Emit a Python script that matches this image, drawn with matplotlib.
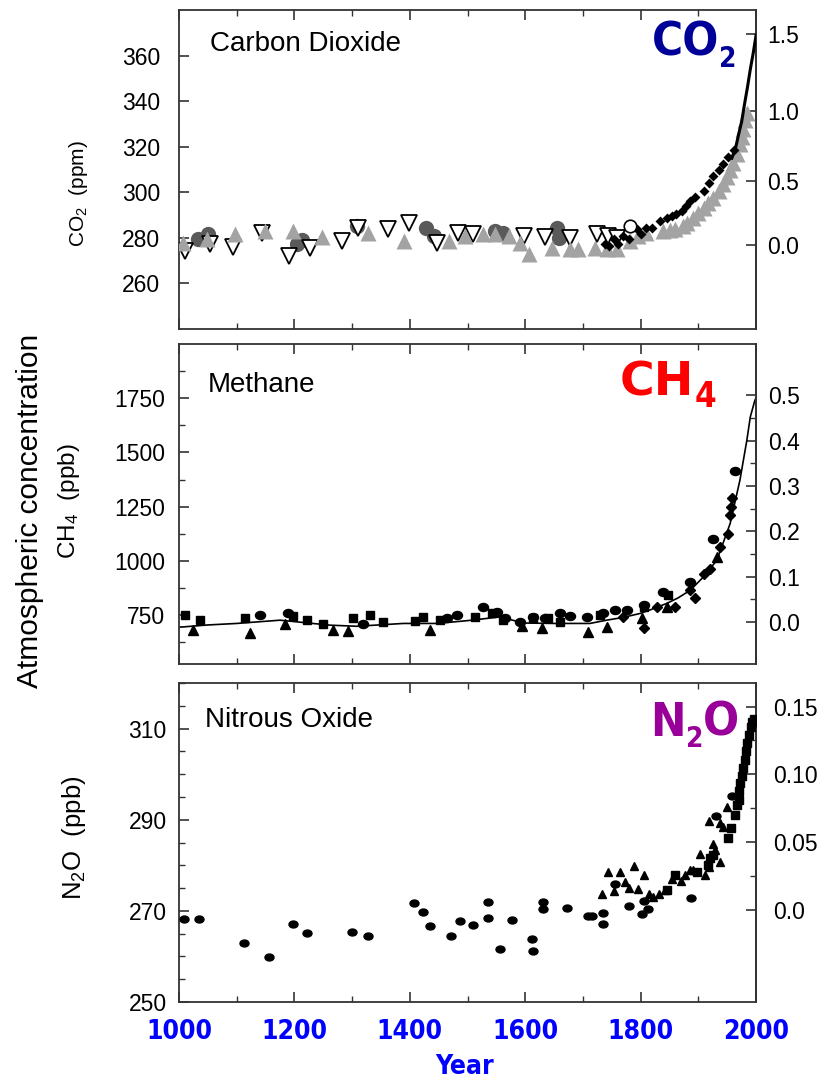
import numpy as np
import matplotlib
matplotlib.use('Agg')
import matplotlib.pyplot as plt
from matplotlib import font_manager as fm
from matplotlib.markers import MarkerStyle
from matplotlib.transforms import Affine2D
from matplotlib.ticker import MultipleLocator, FixedLocator

# ---------------- data ----------------
# CO2 (ppm)
co2_circ_year = [1033, 1051, 1204, 1213, 1309, 1428, 1441, 1548, 1562, 1655, 1658]
co2_circ_ppm = [279.3, 281.5, 277.1, 278.9, 285.2, 284.2, 280.8, 283.0, 282.3, 284.5, 280.0]

co2_open_year = [1010, 1054, 1094, 1143, 1191, 1227, 1282, 1311, 1363, 1398, 1447, 1484, 1510,
                 1597, 1634, 1678, 1724, 1744, 1759]
co2_open_ppm = [274.2, 277.1, 275.9, 282.3, 272.0, 275.6, 278.6, 284.5, 283.8, 286.7, 277.8, 282.3, 281.5,
                280.8, 280.4, 280.0, 281.8, 280.8, 280.0]

co2_gray_year = [1007, 1048, 1097, 1149, 1198, 1247, 1328, 1389, 1467, 1496, 1527, 1548, 1571, 1591,
                 1607, 1646, 1678, 1692, 1721, 1741, 1759, 1782, 1796, 1810, 1839, 1850, 1860, 1874,
                 1880, 1891, 1900, 1909, 1917, 1926, 1935, 1943, 1950, 1955, 1960, 1967, 1972, 1975,
                 1978, 1981, 1984]
co2_gray_ppm = [277.8, 279.3, 281.5, 283.0, 283.0, 280.4, 282.3, 278.6, 278.6, 280.8, 281.5, 281.5, 280.8, 277.8,
                272.7, 275.6, 274.9, 274.9, 275.6, 274.9, 274.9, 278.6, 280.8, 282.3, 283.0, 283.5, 283.8, 285.2,
                286.5, 288.9, 291.0, 293.3, 295.5, 297.7, 300.5, 303.7, 306.5, 309.6, 313.0, 317.0, 321.0, 324.3,
                328.0, 331.7, 334.6]

co2_dia_year = [1738, 1745, 1753, 1760, 1770, 1780, 1793, 1800, 1810, 1820, 1834, 1845, 1854, 1862,
                1871, 1878, 1886, 1895, 1909, 1918, 1926, 1935, 1943, 1952, 1961]
co2_dia_ppm = [277.1, 276.5, 279.3, 277.5, 280.8, 279.5, 283.8, 281.5, 284.5, 284.5, 287.4, 288.5, 289.6, 290.5,
               291.9, 294.0, 296.3, 298.0, 300.7, 304.0, 307.3, 310.0, 312.5, 315.5, 318.4]

co2_ocirc_year = [1782]
co2_ocirc_ppm = [285.2]

co2_line_year = [1958, 1965, 1970, 1975, 1980, 1985, 1990, 1995, 2000]
co2_line_ppm = [315.0, 320.0, 325.7, 331.0, 338.7, 346.0, 354.0, 361.0, 369.0]

# CH4 (ppb)
ch4_line_year = [1000, 1007, 1050, 1100, 1175, 1262, 1308, 1389, 1447, 1500, 1556, 1597, 1650, 1712,
                 1741, 1770, 1799, 1820, 1845, 1865, 1886, 1909, 1932, 1955, 1972, 1984, 1990, 1998, 2000]
ch4_line_ppb = [695, 696, 705, 712, 727, 704, 699, 712, 712, 725, 742, 714, 712, 712,
                727, 740, 758, 778, 804, 830, 865, 927, 1003, 1172, 1372, 1556, 1664, 1741, 1750]

ch4_sq_year = [1010, 1036, 1114, 1198, 1221, 1250, 1302, 1331, 1354, 1409, 1423, 1452, 1513, 1542,
               1562, 1614, 1640, 1660, 1730, 1805, 1848]
ch4_sq_ppb = [750, 727, 735, 745, 729, 711, 739, 750, 719, 723, 742, 727, 742, 758,
              727, 736, 739, 719, 750, 789, 842]

ch4_circ_year = [1140, 1189, 1319, 1464, 1481, 1527, 1551, 1565, 1591, 1614, 1634, 1660, 1678, 1707,
                 1735, 1756, 1776, 1805, 1839, 1886, 1926, 1964]
ch4_circ_ppb = [750, 758, 711, 735, 750, 786, 765, 735, 719, 742, 739, 761, 747, 742,
                758, 773, 773, 796, 857, 904, 1099, 1415]

ch4_tri_year = [1025, 1123, 1184, 1267, 1293, 1435, 1594, 1629, 1709, 1741, 1802, 1845, 1932]
ch4_tri_ppb = [681, 669, 711, 683, 676, 683, 699, 689, 671, 694, 739, 789, 1019]

ch4_dia_year = [1770, 1805, 1828, 1860, 1886, 1895, 1909, 1921, 1938, 1951, 1954, 1956, 1958]
ch4_dia_ppb = [742, 689, 789, 789, 865, 827, 942, 965, 1065, 1126, 1211, 1249, 1288]

# N2O (ppb)
n2o_circ_year = [1009, 1035, 1113, 1156, 1197, 1222, 1300, 1328, 1408, 1423, 1435, 1471, 1487, 1509,
                 1535, 1535, 1556, 1577, 1611, 1613, 1631, 1631, 1673, 1709, 1715, 1735, 1735, 1756,
                 1780, 1803, 1806, 1812, 1888, 1931, 1958]
n2o_circ_ppb = [268.3, 268.3, 262.9, 259.8, 267.1, 265.1, 265.4, 264.5, 271.8, 269.7, 266.6, 264.5, 267.8, 266.8,
                271.9, 268.4, 261.7, 268.0, 263.8, 261.2, 272.0, 270.5, 270.6, 268.9, 268.9, 269.6, 267.2, 276.0,
                271.0, 269.3, 272.1, 270.4, 272.9, 290.9, 295.3]

n2o_tri_year = [1733, 1744, 1754, 1764, 1773, 1779, 1789, 1796, 1805, 1814, 1822, 1831, 1842, 1854,
                1870, 1877, 1885, 1891, 1903, 1912, 1919, 1925, 1929, 1937, 1919, 1937, 1943, 1950]
n2o_tri_ppb = [273.7, 278.6, 274.3, 278.6, 276.4, 275.1, 279.9, 274.7, 277.8, 273.8, 273.1, 273.6, 274.5, 276.9,
               276.5, 277.8, 278.9, 278.9, 282.4, 277.8, 279.7, 284.6, 283.3, 280.8, 289.8, 289.2, 288.5, 292.9]

n2o_sq_year = [1845, 1860, 1898, 1916, 1920, 1925, 1951, 1956, 1964, 1967, 1970, 1971, 1972, 1975,
               1978, 1981, 1983, 1985, 1988, 1991, 1993, 1996]
n2o_sq_ppb = [274.5, 277.8, 278.6, 280.0, 281.5, 282.2, 286.0, 288.1, 291.0, 293.2, 294.3, 296.2, 298.0, 299.5,
              301.3, 303.1, 305.0, 306.8, 308.6, 310.4, 311.5, 312.1]

year_ticks = [1000, 1200, 1400, 1600, 1800, 2000]
year_labels = ['1000', '1200', '1400', '1600', '1800', '2000']

# ---------------- style ----------------
plt.rcParams['font.family'] = ['Liberation Sans', 'DejaVu Sans']
plt.rcParams['mathtext.fontset'] = 'custom'
plt.rcParams['mathtext.rm'] = 'Liberation Sans'
plt.rcParams['mathtext.it'] = 'Liberation Sans:italic'
plt.rcParams['mathtext.bf'] = 'Liberation Sans:bold'

cond_file = None
for f in fm.fontManager.ttflist:
    if 'DejaVuSansCondensed-Bold.ttf' in f.fname:
        cond_file = f.fname
        break

def boldfont(size):
    if cond_file:
        return fm.FontProperties(fname=cond_file, size=size)
    return fm.FontProperties(family='DejaVu Sans', weight='bold', size=size * 0.9)

def widebold(size):
    return fm.FontProperties(family='DejaVu Sans', weight='bold', size=size)

SPINE = '#333333'
TICKFS = 16.5

fig = plt.figure(figsize=(8.22, 10.79), dpi=100)
ax1 = fig.add_axes([0.2178, 0.6951, 0.702, 0.2956])
ax2 = fig.add_axes([0.2178, 0.3846, 0.702, 0.2966])
ax3 = fig.add_axes([0.2178, 0.07136, 0.702, 0.2956])

for ax in (ax1, ax2, ax3):
    ax.set_xlim(1000, 2000)
    ax.xaxis.set_major_locator(FixedLocator(year_ticks))
    ax.xaxis.set_minor_locator(MultipleLocator(100))
    for s in ax.spines.values():
        s.set_color(SPINE)
        s.set_linewidth(1.3)
    ax.tick_params(axis='both', which='major', direction='in', length=7, width=1.2,
                   color=SPINE, labelsize=TICKFS, top=True, right=False)
    ax.tick_params(axis='both', which='minor', direction='in', length=4, width=1.0,
                   color=SPINE, top=True, right=False)
    ax.tick_params(axis='x', labelbottom=False)

# ---------- CO2 panel ----------
ax1.set_ylim(240, 380)
ax1.set_yticks([260, 280, 300, 320, 340, 360])
ax1.tick_params(axis='y', pad=13.5)
ax1.plot(co2_circ_year, co2_circ_ppm, 'o', ms=11, color='#5a5a5a', mec='none', zorder=2)
ax1.plot(co2_open_year, co2_open_ppm, 'v', ms=11, mfc='white', mec='black', mew=1.3, zorder=3)
ax1.plot(co2_gray_year, co2_gray_ppm, '^', ms=11, color='#a3a3a3', mec='none', zorder=4)
ax1.plot(co2_dia_year, co2_dia_ppm, 'D', ms=5.5, color='black', mec='none', zorder=5)
ax1.plot(co2_ocirc_year, co2_ocirc_ppm, 'o', ms=9, mfc='white', mec='black', mew=1.2, zorder=5)
ax1.plot(co2_line_year, co2_line_ppm, '-', lw=2.2, color='black', zorder=6)
sec1 = ax1.secondary_yaxis('right', functions=(lambda c: 5.2 * np.log(np.maximum(c, 1e-6) / 277.0),
                                               lambda f: 277.0 * np.exp(f / 5.2)))
sec1.set_yticks([0.0, 0.5, 1.0, 1.5], labels=['0.0', '0.5', '1.0', '1.5'])
ax1.set_ylabel('CO$_2$  (ppm)', fontsize=15)
ax1.yaxis.set_label_coords(-0.154, 0.426)
ax1.text(0.054, 0.893, 'Carbon Dioxide', transform=ax1.transAxes, fontsize=20, va='center', ha='left')

# ---------- CH4 panel ----------
ax2.set_ylim(525, 2000)
ax2.set_yticks([750, 1000, 1250, 1500, 1750])
ax2.yaxis.set_minor_locator(FixedLocator([625, 875, 1125, 1375, 1625, 1875]))
ax2.tick_params(axis='y', pad=10)
ax2.plot(ch4_line_year, ch4_line_ppb, '-', lw=1.2, color='black', zorder=2)
ell = MarkerStyle('o', transform=Affine2D().scale(1.25, 1.0))
ax2.plot(ch4_sq_year, ch4_sq_ppb, 's', ms=6, color='black', zorder=3)
ax2.plot(ch4_circ_year, ch4_circ_ppb, ls='none', marker=ell, ms=5.8, color='black', zorder=3)
ax2.plot(ch4_tri_year, ch4_tri_ppb, '^', ms=6.5, color='black', zorder=3)
ax2.plot(ch4_dia_year, ch4_dia_ppb, 'D', ms=5, color='black', zorder=3)
sec2 = ax2.secondary_yaxis('right', functions=(lambda m: (m - 718.0) * 0.000478,
                                               lambda f: f / 0.000478 + 718.0))
sec2.set_yticks([0.0, 0.1, 0.2, 0.3, 0.4, 0.5], labels=['0.0', '0.1', '0.2', '0.3', '0.4', '0.5'])
sec2.yaxis.set_minor_locator(FixedLocator([0.05, 0.15, 0.25, 0.35, 0.45]))
ax2.set_ylabel('CH$_4$  (ppb)', fontsize=17.5)
ax2.yaxis.set_label_coords(-0.168, 0.51)
ax2.text(0.049, 0.872, 'Methane', transform=ax2.transAxes, fontsize=20, va='center', ha='left')

# ---------- N2O panel ----------
ax3.set_ylim(250, 320)
ax3.set_yticks([250, 270, 290, 310])
ax3.yaxis.set_minor_locator(MultipleLocator(5))
ax3.tick_params(axis='y', pad=9)
ell2 = MarkerStyle('o', transform=Affine2D().scale(1.3, 1.0))
ax3.plot(n2o_circ_year, n2o_circ_ppb, ls='none', marker=ell2, ms=5, color='black', zorder=3)
ax3.plot(n2o_tri_year, n2o_tri_ppb, '^', ms=5.2, color='black', zorder=3)
ax3.plot(n2o_sq_year, n2o_sq_ppb, 's', ms=6, color='black', zorder=3)
sec3 = ax3.secondary_yaxis('right', functions=(lambda n: (n - 270.2) * 0.00336,
                                               lambda f: f / 0.00336 + 270.2))
sec3.set_yticks([0.0, 0.05, 0.10, 0.15], labels=['0.0', '0.05', '0.10', '0.15'])
sec3.yaxis.set_minor_locator(FixedLocator([0.025, 0.075, 0.125]))
ax3.set_ylabel('N$_2$O  (ppb)', fontsize=18.5)
ax3.yaxis.set_label_coords(-0.158, 0.514)
ax3.text(0.045, 0.884, 'Nitrous Oxide', transform=ax3.transAxes, fontsize=20, va='center', ha='left')

for sec, pad in ((sec1, 8), (sec2, 9), (sec3, 12)):
    sec.spines['right'].set_color(SPINE)
    sec.spines['right'].set_linewidth(1.3)
    sec.tick_params(axis='y', which='major', direction='in', length=7, width=1.2,
                    color=SPINE, labelsize=TICKFS, pad=pad)
    sec.tick_params(axis='y', which='minor', direction='in', length=4, width=1.0, color=SPINE)

# x tick labels on bottom panel
ax3.tick_params(axis='x', labelbottom=True, pad=12)
ax3.set_xticks(year_ticks, labels=year_labels)
for lbl in ax3.get_xticklabels():
    lbl.set_fontproperties(boldfont(19))
    lbl.set_color('#0000ff')

fig.text(465 / 822, 1 - 1067 / 1079, 'Year', fontproperties=boldfont(19), color='#0000ff',
         ha='center', va='center')

fig.text(30 / 822, 1 - 511 / 1079, 'Atmospheric concentration', rotation=90, fontsize=21.5,
         ha='center', va='center')

# big colored labels with subscripts (pixel positions of left edge and baseline)
fig.canvas.draw()
renderer = fig.canvas.get_renderer()

def big_label(x_px, base_px, parts, color, fpmain, fpsub, drop):
    x = x_px
    for txt, is_sub in parts:
        fp = fpsub if is_sub else fpmain
        yb = base_px + (drop if is_sub else 0)
        t = fig.text(x / 822, 1 - yb / 1079, txt, fontproperties=fp, color=color,
                     ha='left', va='baseline')
        bb = t.get_window_extent(renderer=renderer)
        x += bb.width

big_label(652, 56, [('CO', False), ('2', True)], '#000099', boldfont(34), boldfont(20), 11)
big_label(620, 396, [('CH', False), ('4', True)], '#ff0000', widebold(34), boldfont(25), 11)
big_label(650, 736, [('N', False), ('2', True), ('O', False)], '#990099', boldfont(34), boldfont(20), 11)

fig.savefig('out.png', dpi=100)
